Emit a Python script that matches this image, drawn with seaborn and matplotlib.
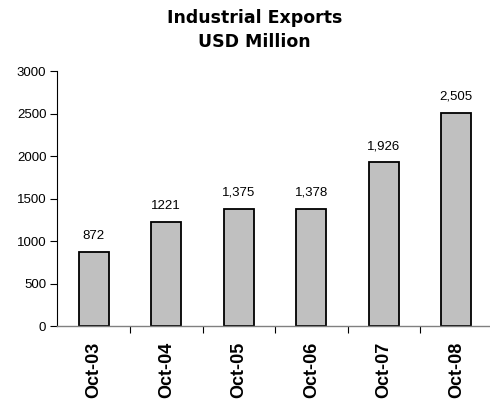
import matplotlib
matplotlib.use("Agg")
import matplotlib.pyplot as plt
import seaborn as sns
import pandas as pd
from matplotlib.ticker import FixedLocator, NullFormatter

# Industrial exports, USD million
periods = ["Oct-03", "Oct-04", "Oct-05", "Oct-06", "Oct-07", "Oct-08"]
exports = [872, 1221, 1375, 1378, 1926, 2505]
value_labels = ["872", "1221", "1,375", "1,378", "1,926", "2,505"]
y_ticks = [0, 500, 1000, 1500, 2000, 2500, 3000]

sns.set_theme(style="white")
plt.rcParams["font.family"] = ["Liberation Sans", "DejaVu Sans"]
plt.rcParams["text.color"] = "black"
plt.rcParams["xtick.color"] = "black"
plt.rcParams["ytick.color"] = "black"

df = pd.DataFrame({"period": periods, "exports": exports})

fig = plt.figure(figsize=(4.9, 4.04), dpi=100)
ax = fig.add_axes([0.1173, 0.193, 0.888, 0.631])

sns.barplot(data=df, x="period", y="exports", ax=ax, color="#c0c0c0",
            saturation=1, width=0.41, edgecolor="black", linewidth=1.3)

ax.set_xlim(-0.5, len(periods) - 0.5)
ax.set_ylim(0, 3000)
ax.set_yticks(y_ticks)
ax.set_yticklabels([str(t) for t in y_ticks], fontsize=9.5)
ax.set_xlabel("")
ax.set_ylabel("")

ax.set_xticks(range(len(periods)))
ax.set_xticklabels(periods, rotation=90, fontsize=13, fontweight="bold")
ax.xaxis.set_minor_locator(FixedLocator([i + 0.5 for i in range(len(periods) - 1)]))
ax.xaxis.set_minor_formatter(NullFormatter())
ax.tick_params(axis="x", which="major", length=0, pad=11)
ax.tick_params(axis="x", which="minor", bottom=True, length=5, width=0.8,
               color="black", direction="out")
ax.tick_params(axis="y", which="major", left=True, length=5, width=0.8,
               color="black", direction="out", pad=3)

for side in ("top", "right"):
    ax.spines[side].set_visible(False)
ax.spines["left"].set_color("black")
ax.spines["left"].set_linewidth(0.8)
ax.spines["bottom"].set_color("#808080")
ax.spines["bottom"].set_linewidth(1.0)

for i, (v, lab) in enumerate(zip(exports, value_labels)):
    ax.annotate(lab, xy=(i, v), xytext=(0, 7.4), textcoords="offset points",
                ha="center", va="bottom", fontsize=9.5, color="black")

fig.text(0.52, 0.926, "Industrial Exports\nUSD Million", ha="center",
         va="center", fontsize=12.5, fontweight="bold", color="black",
         family=["DejaVu Sans"], linespacing=1.4)

fig.savefig("out.png", dpi=100, facecolor="white")
